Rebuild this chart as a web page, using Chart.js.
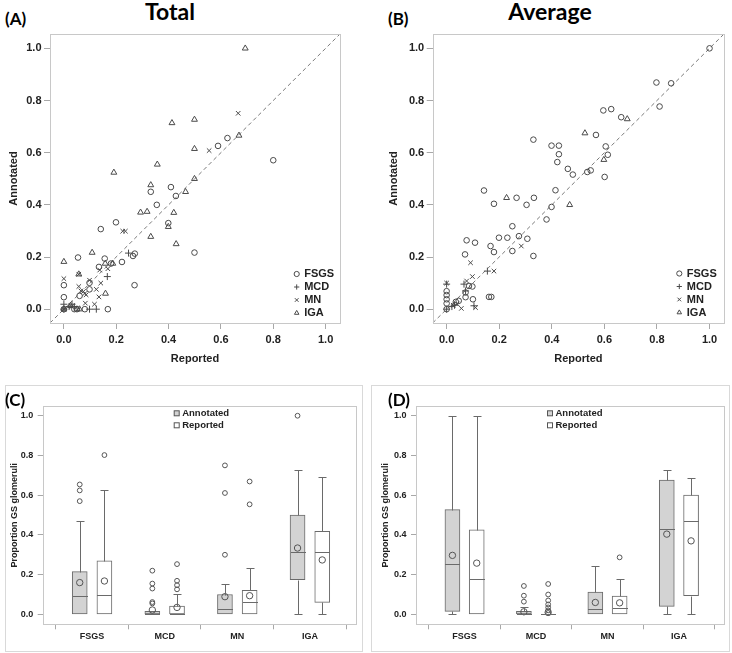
<!DOCTYPE html>
<html>
<head>
<meta charset="utf-8">
<script src="https://cdn.jsdelivr.net/npm/chart.js@4.4.1/dist/chart.umd.min.js"></script>
<style>
  body { margin: 0; width: 732px; height: 653px; background: #fff; position: relative; overflow: hidden; }
  canvas, .tag, .frame { position: absolute; }
  .tag { font-family: Lato, "Open Sans", sans-serif; font-weight: 700; color: #000; white-space: nowrap; }
  .frame { border: 1px solid #d9d9d9; }
</style>
</head>
<body>
<div class="tag" style="left:5px;top:10px;font-size:17px;line-height:17px">(A)</div>
<div class="tag" style="left:120px;top:0;width:100px;text-align:center;font-size:23px;line-height:23px">Total</div>
<div class="tag" style="left:388px;top:10px;font-size:17px;line-height:17px">(B)</div>
<div class="tag" style="left:490px;top:0;width:120px;text-align:center;font-size:23px;line-height:23px">Average</div>
<div class="frame" style="left:5px;top:385px;width:356px;height:265px"></div>
<div class="frame" style="left:371px;top:385px;width:357px;height:265px"></div>
<canvas id="chartA" width="350" height="372" style="left:0;top:0"></canvas>
<canvas id="chartB" width="366" height="372" style="left:366px;top:0"></canvas>
<canvas id="chartC" width="366" height="268" style="left:0;top:385px"></canvas>
<canvas id="chartD" width="366" height="268" style="left:366px;top:385px"></canvas>
<div class="tag" style="left:5px;top:391px;font-size:17px;line-height:17px">(C)</div>
<div class="tag" style="left:388px;top:391px;font-size:17px;line-height:17px">(D)</div>
<script>
// ---- data: scatter panels, [reported, annotated] ----
const seriesNames = ['FSGS', 'MCD', 'MN', 'IGA'];

const totalFSGS = [[0.80,0.571],[0.625,0.656],[0.589,0.626],[0.409,0.468],[0.428,0.434],[0.332,0.45],[0.355,0.40],
  [0.399,0.33],[0.199,0.333],[0.141,0.307],[0.499,0.217],[0.271,0.213],[0.264,0.204],[0.222,0.181],[0.156,0.194],
  [0.054,0.198],[0.134,0.162],[0.18,0.175],[0.27,0.092],[0,0.092],[0,0.046],[0.098,0.076],[0.098,0.101],[0.06,0.051],
  [0.08,0],[0.168,0],[0.05,0],[0.04,0],[0,0]];
const totalMCD = [[0.247,0.215],[0.166,0.125],[0,0.019],[0.031,0.019],[0.098,0],[0.124,0],[0,0],[0.02,0.01],[0.04,0.01]];
const totalMN = [[0.666,0.751],[0.555,0.608],[0.225,0.299],[0.235,0.299],[0.137,0.15],[0.168,0.155],[0.141,0.1],
  [0,0.117],[0.057,0.087],[0.098,0.111],[0.124,0.076],[0.134,0.047],[0.117,0.019],[0.082,0.023],[0.075,0.068],
  [0.08,0.06],[0.085,0.055],[0.057,0.134],[0.065,0.07],[0,0],[0.03,0.01]];
const totalIGA = [[0.693,1.0],[0.413,0.714],[0.499,0.727],[0.499,0.615],[0.669,0.666],[0.499,0.5],[0.465,0.45],
  [0.357,0.555],[0.191,0.524],[0.332,0.476],[0.293,0.371],[0.318,0.374],[0.42,0.37],[0.399,0.316],[0.332,0.278],
  [0.429,0.25],[0.108,0.217],[0,0.182],[0.057,0.134],[0.158,0.175],[0.187,0.175],[0.159,0.06],[0.05,0],[0.06,0],
  [0,0],[0.025,0.013]];

const avgFSGS = [[1.0,1.0],[0.798,0.869],[0.854,0.866],[0.81,0.777],[0.596,0.762],[0.626,0.767],[0.664,0.736],
  [0.568,0.668],[0.605,0.624],[0.613,0.592],[0.601,0.507],[0.535,0.526],[0.548,0.532],[0.48,0.516],[0.461,0.538],
  [0.421,0.564],[0.427,0.594],[0.427,0.627],[0.399,0.627],[0.33,0.65],[0.414,0.456],[0.399,0.392],[0.38,0.344],
  [0.332,0.427],[0.304,0.4],[0.266,0.427],[0.142,0.455],[0.18,0.404],[0.25,0.318],[0.275,0.28],[0.231,0.274],
  [0.307,0.27],[0.199,0.274],[0.25,0.223],[0.33,0.204],[0.167,0.242],[0.18,0.219],[0.076,0.264],[0.108,0.255],
  [0.07,0.21],[0.085,0.089],[0.098,0.087],[0.072,0.046],[0.1,0.038],[0.161,0.047],[0.17,0.047],[0,0.069],
  [0,0.054],[0,0.038],[0,0.022],[0,0],[0.035,0.028],[0.046,0.032],[0.072,0.064]];
const avgMCD = [[0,0.096],[0.155,0.146],[0.066,0.096],[0.072,0.07],[0.104,0.013],[0.03,0.015],[0,0],[0.02,0.01]];
const avgMN = [[0,0.1],[0.091,0.178],[0.098,0.125],[0.18,0.146],[0.284,0.242],[0.056,0.003],[0.11,0.006],
  [0.076,0.108],[0.025,0.015],[0.04,0.02]];
const avgIGA = [[0.526,0.675],[0.687,0.729],[0.598,0.573],[0.228,0.427],[0.468,0.4]];

// ---- data: box panels, [low whisker, q1, median, q3, high whisker] per group ----
const groups = ['FSGS', 'MCD', 'MN', 'IGA'];

const totAnnBox = [[0,0,0.094,0.215,0.47],[0,0,0.004,0.015,0.015],[0,0,0.025,0.1,0.153],[0,0.175,0.314,0.5,0.727]];
const totAnnMean = [0.16, 0.022, 0.089, 0.334];
const totAnnOut = [[0.57,0.624,0.654],[0.055,0.062,0.13,0.155,0.22],[0.3,0.611,0.75],[1.0]];
const totRepBox = [[0,0,0.1,0.27,0.624],[0,0,0,0.042,0.102],[0,0,0.06,0.121,0.233],[0,0.06,0.316,0.418,0.69]];
const totRepMean = [0.168, 0.035, 0.094, 0.274];
const totRepOut = [[0.802],[0.126,0.147,0.169,0.253],[0.554,0.669],[]];

const avgAnnBox = [[0,0.015,0.255,0.527,1.0],[0,0,0.004,0.015,0.035],[0,0,0.025,0.112,0.242],[0,0.04,0.428,0.676,0.727]];
const avgAnnMean = [0.297, 0.013, 0.06, 0.404];
const avgAnnOut = [[],[0.064,0.094,0.143],[],[]];
const avgRepBox = [[0,0,0.18,0.425,1.0],[0,0,0,0,0],[0,0,0.03,0.092,0.18],[0,0.094,0.468,0.6,0.688]];
const avgRepMean = [0.258, 0.01, 0.058, 0.37];
const avgRepOut = [[],[0.007,0.02,0.035,0.05,0.07,0.1,0.153],[0.287],[]];

// ---- styling ----
Chart.defaults.font.family = '"Liberation Sans", Arial, sans-serif';
Chart.defaults.color = '#222';
const markColor = '#4a4a4a';
const frameColor = '#c8c8c8';
const marks = ['circle', 'cross', 'crossRot', 'triangle'];
const markSize = [2.8, 3.5, 3.2, 3.4];
const fmt = v => Math.abs(v) < 1e-9 ? '0.0' : v.toFixed(1);

// light frame round the plot area
const frame = {
  id: 'frame',
  afterDraw(chart) {
    const {ctx, chartArea: a} = chart;
    ctx.save();
    ctx.strokeStyle = frameColor;
    ctx.lineWidth = 1;
    ctx.strokeRect(Math.round(a.left) + 0.5, Math.round(a.top) + 0.5, Math.round(a.right - a.left), Math.round(a.bottom - a.top));
    ctx.restore();
  }
};

// marker legend inside the scatter plots
const symLegend = {
  id: 'symLegend',
  afterDraw(chart, args, o) {
    if (!o.x) return;
    const ctx = chart.ctx;
    const items = chart.data.datasets.filter(d => d.label);
    ctx.save();
    ctx.font = 'bold 11px "Liberation Sans", Arial, sans-serif';
    ctx.textBaseline = 'middle';
    items.forEach((d, k) => {
      const y = o.y + k * o.gap;
      ctx.strokeStyle = markColor;
      ctx.fillStyle = 'rgba(0,0,0,0)';
      ctx.lineWidth = 1;
      Chart.helpers.drawPoint(ctx, {pointStyle: d.pointStyle, radius: o.r, borderWidth: 1}, o.x, y);
      ctx.fillStyle = '#222';
      ctx.fillText(d.label, o.x + 7.5, y);
    });
    ctx.restore();
  }
};

function scatterPanel(id, sets, yTitlePad, rightPad) {
  const lim = [-0.053, 1.055];
  const datasets = [{
    type: 'line', data: lim.map(v => ({x: v, y: v})), borderColor: '#7a7a7a', borderWidth: 1,
    borderDash: [4, 3], pointRadius: 0, order: 9
  }];
  sets.forEach((d, k) => datasets.push({
    label: seriesNames[k],
    data: d.map(p => ({x: p[0], y: p[1]})),
    pointStyle: marks[k], pointRadius: markSize[k], pointBorderWidth: 1,
    pointBorderColor: markColor, pointBackgroundColor: 'rgba(0,0,0,0)', order: k
  }));
  const axis = (title, isX) => ({
    type: 'linear', min: lim[0], max: lim[1],
    grid: {drawOnChartArea: false, drawTicks: true, tickLength: 6, color: '#a8a8a8'},
    border: {display: false},
    ticks: {stepSize: 0.2, includeBounds: false, padding: isX ? 4 : 2.5, maxRotation: 0,
      font: {size: 11, weight: 'bold'}, color: '#222', callback: fmt},
    title: {display: true, text: title, font: {size: 11, weight: 'bold'}, color: '#222',
      padding: isX ? {bottom: 6.4} : {top: yTitlePad}},
    afterFit: s => { if (isX) s.height = 49; else s.width = id === 'chartA' ? 50 : 66.7; }
  });
  new Chart(document.getElementById(id), {
    type: 'scatter',
    data: {datasets},
    options: {
      responsive: false, animation: false, events: [],
      layout: {padding: {top: 34, right: rightPad, left: 0, bottom: 0}},
      plugins: {
        legend: {display: false}, tooltip: {enabled: false},
        symLegend: id === 'chartA' ? {x: 296.7, y: 274, gap: 13, r: 2.6} : {x: 313.3, y: 273.5, gap: 13, r: 2.6}
      },
      scales: {x: axis('Reported', true), y: axis('Annotated', false)}
    },
    plugins: [frame, symLegend]
  });
}

// whiskers, caps and medians for the box datasets
const boxLines = {
  id: 'boxLines',
  afterDatasetsDraw(chart) {
    const {ctx, scales: {y}} = chart;
    ctx.save();
    ctx.strokeStyle = '#6a6a6a';
    ctx.lineWidth = 1;
    const seg = (x1, y1, x2, y2) => { ctx.beginPath(); ctx.moveTo(x1, y1); ctx.lineTo(x2, y2); ctx.stroke(); };
    chart.data.datasets.forEach((ds, di) => {
      if (!ds.box) return;
      const meta = chart.getDatasetMeta(di);
      ds.box.forEach((b, i) => {
        const bar = meta.data[i];
        const cx = Math.round(bar.x) + 0.5;
        const half = bar.width / 2, cap = 4;
        const py = v => Math.round(y.getPixelForValue(v)) + 0.5;
        seg(cx - half, py(b[2]), cx + half, py(b[2]));
        if (b[4] > b[3]) { seg(cx, py(b[3]), cx, py(b[4])); seg(cx - cap, py(b[4]), cx + cap, py(b[4])); }
        if (b[0] < b[1]) { seg(cx, py(b[1]), cx, py(b[0])); seg(cx - cap, py(b[0]), cx + cap, py(b[0])); }
      });
    });
    ctx.restore();
  }
};

// square legend for the box panels
const boxLegend = {
  id: 'boxLegend',
  afterDraw(chart, args, o) {
    const ctx = chart.ctx;
    ctx.save();
    ctx.font = 'bold 9.5px "Liberation Sans", Arial, sans-serif';
    ctx.textBaseline = 'middle';
    chart.data.datasets.filter(d => d.box).forEach((d, k) => {
      const y = o.y + k * 12;
      ctx.fillStyle = d.backgroundColor;
      ctx.fillRect(o.x - 2.5, y - 2.5, 5, 5);
      ctx.strokeStyle = '#555';
      ctx.lineWidth = 1;
      ctx.strokeRect(o.x - 2.5, y - 2.5, 5, 5);
      ctx.fillStyle = '#222';
      ctx.fillText(d.label, o.x + 5.5, y);
    });
    ctx.restore();
  }
};

function boxPanel(id, ann, annMean, annOut, rep, repMean, repOut, o) {
  const shift = 0.17;
  const pts = (arr, s) => arr.map((v, i) => ({x: i + s, y: v}));
  const outs = (arr, s) => arr.flatMap((list, i) => list.map(v => ({x: i + s, y: v})));
  const box = (label, stats, s, fill) => ({
    type: 'bar', label, box: stats,
    data: stats.map((b, i) => ({x: i + s, y: [b[1], b[3]]})),
    backgroundColor: fill, borderColor: '#6a6a6a', borderWidth: 1, borderSkipped: false,
    barThickness: 15, grouped: false, order: 5
  });
  const dots = (data, r) => ({
    type: 'scatter', data, pointStyle: 'circle', pointRadius: r, pointBorderWidth: 1,
    pointBorderColor: '#555', pointBackgroundColor: 'rgba(0,0,0,0)', order: 1
  });
  new Chart(document.getElementById(id), {
    type: 'bar',
    data: {datasets: [
      box('Annotated', ann, -shift, '#d3d3d3'),
      box('Reported', rep, shift, '#ffffff'),
      dots(pts(annMean, -shift), 3.2), dots(pts(repMean, shift), 3.2),
      dots(outs(annOut, -shift), 2.4), dots(outs(repOut, shift), 2.4)
    ]},
    options: {
      responsive: false, animation: false, events: [],
      layout: {padding: {top: 21, right: o.right, left: 0, bottom: 0}},
      plugins: {legend: {display: false}, tooltip: {enabled: false}, boxLegend: {x: o.legX, y: 28.3}},
      scales: {
        x: {
          type: 'linear', min: -0.68, max: 3.635, offset: false,
          grid: {drawOnChartArea: false, drawTicks: true, tickLength: 5, color: '#a8a8a8'},
          border: {display: false},
          ticks: {stepSize: 1, includeBounds: false, padding: 2, maxRotation: 0, autoSkip: false,
            font: {size: 9, weight: 'bold'}, color: '#222', callback: v => groups[v] ?? ''},
          afterFit: s => { s.height = 28.7; }
        },
        y: {
          type: 'linear', min: -0.05, max: 1.049,
          grid: {drawOnChartArea: false, drawTicks: true, tickLength: 5, color: '#a8a8a8'},
          border: {display: false},
          ticks: {stepSize: 0.2, includeBounds: false, padding: 4.4,
            font: {size: 9, weight: 'bold'}, color: '#222', callback: fmt},
          title: {display: true, text: 'Proportion GS glomeruli', font: {size: 9, weight: 'bold'},
            color: '#222', padding: {top: o.titlePad}},
          afterFit: s => { s.width = o.left; }
        }
      }
    },
    plugins: [frame, boxLines, boxLegend]
  });
}

scatterPanel('chartA', [totalFSGS, totalMCD, totalMN, totalIGA], 7.4, 10);
scatterPanel('chartB', [avgFSGS, avgMCD, avgMN, avgIGA], 21.7, 8);
boxPanel('chartC', totAnnBox, totAnnMean, totAnnOut, totRepBox, totRepMean, totRepOut,
  {left: 42.7, right: 10, titlePad: 9.6, legX: 176.7});
boxPanel('chartD', avgAnnBox, avgAnnMean, avgAnnOut, avgRepBox, avgRepMean, avgRepOut,
  {left: 50, right: 7.7, titlePad: 14.6, legX: 184});
</script>
</body>
</html>
